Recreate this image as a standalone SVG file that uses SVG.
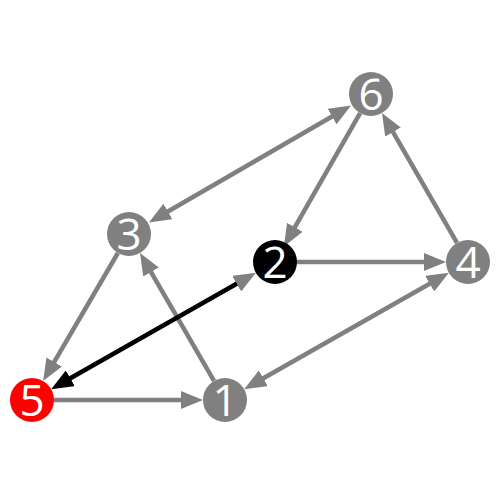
<svg xmlns="http://www.w3.org/2000/svg" width="500" height="500" viewBox="0 0 500 500">
<style>
.e{stroke:#808080;stroke-width:4.5;fill:none}
.k{stroke:#000;stroke-width:4.5;fill:none}
.n{fill:#808080}
.t{fill:#fff;font-family:"Open Sans",sans-serif;font-size:44px;text-anchor:middle}
</style>
<defs>
<marker id="ag" markerUnits="userSpaceOnUse" markerWidth="22" markerHeight="18" refX="10" refY="9" orient="auto-start-reverse" viewBox="0 0 22 18"><path d="M0,0L22,9L0,18z" fill="#808080"/></marker>
<marker id="ab" markerUnits="userSpaceOnUse" markerWidth="22" markerHeight="18" refX="10" refY="9" orient="auto-start-reverse" viewBox="0 0 22 18"><path d="M0,0L22,9L0,18z" fill="#000"/></marker>
</defs>
<rect width="500" height="500" fill="#fff"/>
<g id="edges">
<line class="e" x1="340.70" y1="111.53" x2="159.30" y2="216.47" marker-start="url(#ag)" marker-end="url(#ag)"/>
<line class="e" x1="360.09" y1="113.10" x2="289.88" y2="235.96" marker-end="url(#ag)"/>
<line class="e" x1="297" y1="262" x2="434" y2="262" marker-end="url(#ag)"/>
<line class="e" x1="457.0" y1="242.95" x2="388.0" y2="123.44" marker-end="url(#ag)"/>
<line class="e" x1="117.90" y1="253.0" x2="49.15" y2="370.64" marker-end="url(#ag)"/>
<line class="e" x1="213.99" y1="380.95" x2="146.02" y2="263.44" marker-end="url(#ag)"/>
<line class="e" x1="54" y1="400" x2="191" y2="400" marker-end="url(#ag)"/>
<line class="e" x1="254.57" y1="383.21" x2="438.43" y2="278.79" marker-start="url(#ag)" marker-end="url(#ag)"/>
<line class="k" x1="245.43" y1="278.79" x2="61.57" y2="383.21" marker-start="url(#ag)" marker-end="url(#ab)"/>
</g>
<g id="node1"><circle class="n" cx="225" cy="400" r="22"/><text class="t" x="225" y="415.7">1</text></g>
<g id="node2"><circle cx="275" cy="262" r="22" fill="#000"/><text class="t" x="275" y="277.7">2</text></g>
<g id="node3"><circle class="n" cx="129" cy="234" r="22"/><text class="t" x="129" y="249.7">3</text></g>
<g id="node4"><circle class="n" cx="468" cy="262" r="22"/><text class="t" x="468" y="277.7">4</text></g>
<g id="node5"><circle cx="32" cy="400" r="22" fill="#f00"/><text class="t" x="32" y="415.7">5</text></g>
<g id="node6"><circle class="n" cx="371" cy="94" r="22"/><text class="t" x="371" y="109.7">6</text></g>
</svg>
